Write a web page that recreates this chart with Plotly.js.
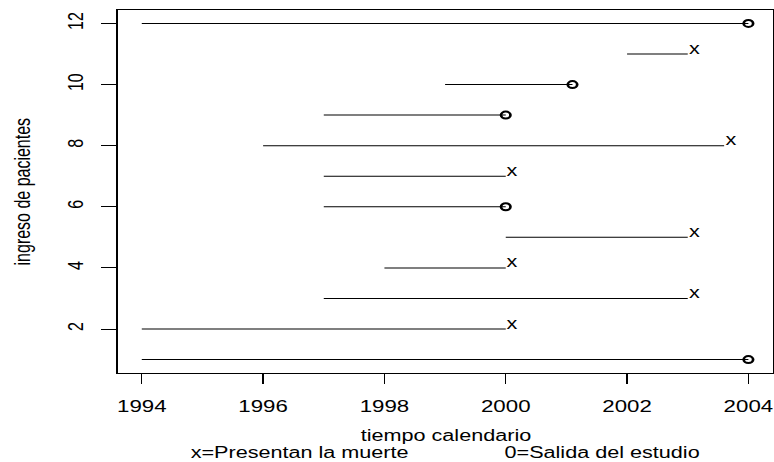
<!DOCTYPE html>
<html>
<head>
<meta charset="utf-8">
<script src="https://cdn.plot.ly/plotly-3.0.1.min.js"></script>
<style>
  html, body { margin: 0; padding: 0; overflow: hidden; background: #ffffff; }
  #wrap { width: 573px; height: 462px; transform: scaleX(1.3508); transform-origin: 0 0; }
</style>
</head>
<body>
<div id="wrap"></div>
<script>
// ---- data ----
const patients = [1, 2, 3, 4, 5, 6, 7, 8, 9, 10, 11, 12];
const entryYear = [1994, 1994, 1997, 1998, 2000, 1997, 1997, 1996, 1997, 1999, 2002, 1994];
const exitYear  = [2004, 2000, 2003, 2000, 2003, 2000, 2000, 2003.6, 2000, 2001.1, 2003, 2004];
const status    = [0, 1, 1, 1, 1, 0, 1, 1, 0, 0, 1, 0]; // 1 = muerte (x), 0 = salida del estudio (o)
const xTicks = [1994, 1996, 1998, 2000, 2002, 2004];
const yTicks = [2, 4, 6, 8, 10, 12];
const xTitle = "tiempo calendario";
const yTitle = "ingreso de pacientes";
const subLeft = "x=Presentan la muerte";
const subRight = "0=Salida del estudio";

const FONT = "Liberation Sans, Arial, Helvetica, sans-serif";

// segments
const segX = [], segY = [];
patients.forEach((p, i) => {
  segX.push(entryYear[i], exitYear[i], null);
  segY.push(p, p, null);
});

const cenX = [], cenY = [];
patients.forEach((p, i) => { if (status[i] === 0) { cenX.push(exitYear[i]); cenY.push(p); } });

const traces = [
  { type: "scatter", mode: "lines", x: segX, y: segY,
    line: { color: "#000000", width: 1 }, hoverinfo: "skip", showlegend: false },
  { type: "scatter", mode: "markers", x: cenX, y: cenY,
    marker: { symbol: "circle-open", size: 7, color: "#000000", line: { color: "#000000", width: 2 } },
    hoverinfo: "skip", showlegend: false }
];

const annotations = [];
patients.forEach((p, i) => {
  if (status[i] === 1) {
    annotations.push({ x: exitYear[i], y: p, xref: "x", yref: "y", text: "x", showarrow: false,
      xanchor: "center", yanchor: "middle", xshift: 5, yshift: 6,
      font: { family: FONT, size: 16, color: "#000000" } });
  }
});
annotations.push({ x: 0, y: 0.5, xref: "paper", yref: "paper", text: yTitle, textangle: -90,
  showarrow: false, xanchor: "center", yanchor: "middle", xshift: -70,
  font: { family: FONT, size: 16, color: "#000000" } });
annotations.push({ x: 0.5, y: 0, xref: "paper", yref: "paper", text: xTitle,
  showarrow: false, xanchor: "center", yanchor: "middle", yshift: -62,
  font: { family: FONT, size: 16, color: "#000000" } });
annotations.push({ x: 0.5, y: 0, xref: "paper", yref: "paper",
  text: subLeft + "\u00a0".repeat(16) + subRight,
  showarrow: false, xanchor: "center", yanchor: "middle", yshift: -79,
  font: { family: FONT, size: 16, color: "#000000" } });

const layout = {
  width: 573, height: 462,
  margin: { l: 87, r: 1, t: 10, b: 89, pad: 0 },
  paper_bgcolor: "#ffffff", plot_bgcolor: "#ffffff",
  font: { family: FONT, color: "#000000" },
  showlegend: false,
  xaxis: {
    range: [1993.6, 2004.4], tickmode: "array", tickvals: xTicks, ticktext: xTicks.map(String),
    ticks: "outside", ticklen: 10, tickwidth: 1, tickcolor: "#000000", ticklabelstandoff: 8,
    showgrid: false, zeroline: false, showline: true, mirror: true, linecolor: "#000000", linewidth: 1,
    tickfont: { family: FONT, size: 16.5, color: "#000000" }
  },
  yaxis: {
    range: [0.56, 12.44], tickmode: "array", tickvals: yTicks, ticktext: yTicks.map(String),
    ticks: "outside", ticklen: 11, tickwidth: 1, tickcolor: "#000000", tickangle: -90, ticklabelstandoff: 7,
    showgrid: false, zeroline: false, showline: true, mirror: true, linecolor: "#000000", linewidth: 1,
    tickfont: { family: FONT, size: 16, color: "#000000" }
  },
  annotations: annotations
};

Plotly.newPlot("wrap", traces, layout, { staticPlot: true, displayModeBar: false });
</script>
</body>
</html>
